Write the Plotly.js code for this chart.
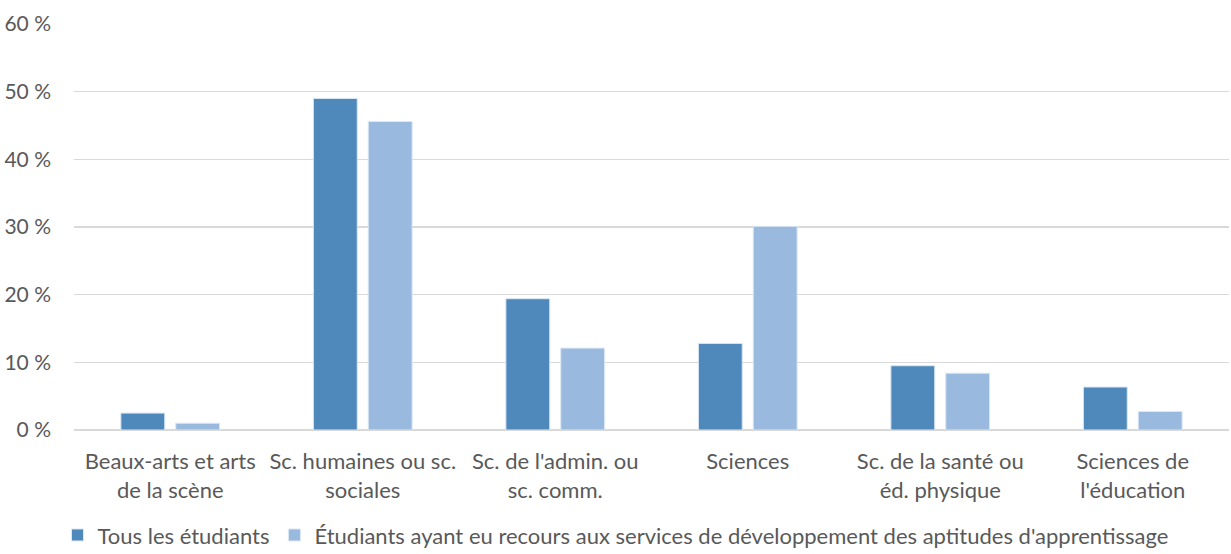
<!DOCTYPE html>
<html>
<head>
<meta charset="utf-8">
<script src="https://cdn.plot.ly/plotly-3.0.1.min.js"></script>
<style>html,body{margin:0;padding:0;background:#fff;}#chart{width:1231px;height:554px;}</style>
</head>
<body>
<div id="chart"></div>
<script>
var categories = [
  "Beaux-arts et arts<br>de la scène",
  "Sc. humaines ou sc.<br>sociales",
  "Sc. de l'admin. ou<br>sc. comm.",
  "Sciences",
  "Sc. de la santé ou<br>éd. physique",
  "Sciences de<br>l'éducation"
];
var seriesNames = [
  "Tous les étudiants",
  "Étudiants ayant eu recours aux services de développement des aptitudes d'apprentissage"
];
var tousLesEtudiants = [2.5, 49.0, 19.4, 12.8, 9.5, 6.35];
var etudiantsServices = [1.0, 45.6, 12.1, 30.1, 8.4, 2.75];
var yTicks = [0, 10, 20, 30, 40, 50, 60];
var yTickText = yTicks.map(function (v) { return v + " %"; });

var font = "Lato, 'Open Sans', sans-serif";
var traces = [
  {type: "bar", name: seriesNames[0], x: categories, y: tousLesEtudiants,
   marker: {color: "#4F89BC", line: {color: "#DCE8F4", width: 1}}},
  {type: "bar", name: seriesNames[1], x: categories, y: etudiantsServices,
   marker: {color: "#99B9DF", line: {color: "#DCE8F4", width: 1}}}
];
var layout = {
  width: 1231, height: 554,
  margin: {l: 74, r: 2, t: 24, b: 124},
  paper_bgcolor: "#fff", plot_bgcolor: "#fff",
  font: {family: font, size: 22, color: "#595959"},
  barmode: "group", bargap: 0.43, bargroupgap: 0.2,
  showlegend: true,
  legend: {orientation: "h", x: 0.5, xanchor: "center", xref: "container",
           y: 0.034, yref: "container", yanchor: "middle",
           font: {family: font, size: 22, color: "#595959"},
           itemwidth: 30, tracegroupgap: 0},
  xaxis: {showline: false, showgrid: false, ticks: "", tickfont: {size: 22},
          ticklabelstandoff: 16, automargin: false},
  yaxis: {range: [0, 60], tickvals: yTicks, ticktext: yTickText, tickmode: "array",
          showgrid: true, gridcolor: "#D9D9D9", gridwidth: 1.5, zeroline: true,
          zerolinecolor: "#D9D9D9", zerolinewidth: 1.8, showline: false, ticks: "",
          ticklabelstandoff: 22, tickfont: {size: 21}, automargin: false}
};
Plotly.newPlot("chart", traces, layout, {displayModeBar: false, staticPlot: true});
</script>
</body>
</html>
